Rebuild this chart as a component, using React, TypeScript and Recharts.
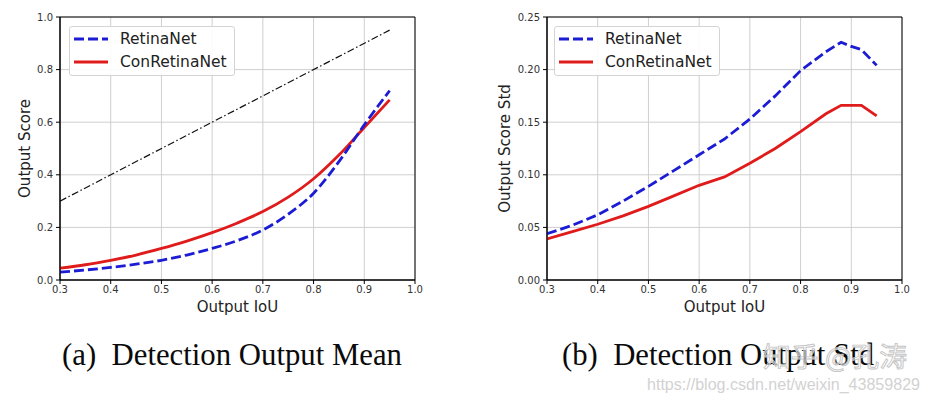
import React from 'react'
import { LineChart, Line, XAxis, YAxis, CartesianGrid, Legend, ReferenceArea, Label } from 'recharts'

const iouMean = [0.3, 0.35, 0.4, 0.45, 0.5, 0.55, 0.6, 0.65, 0.7, 0.75, 0.8, 0.85, 0.9, 0.95]
const retinaMean = [0.03, 0.038, 0.048, 0.06, 0.075, 0.095, 0.12, 0.15, 0.19, 0.25, 0.33, 0.45, 0.59, 0.72]
const conMean = [0.045, 0.058, 0.075, 0.095, 0.12, 0.148, 0.18, 0.217, 0.26, 0.315, 0.385, 0.475, 0.58, 0.685]

const iouStd = [0.3, 0.35, 0.4, 0.45, 0.5, 0.55, 0.6, 0.65, 0.7, 0.75, 0.8, 0.85, 0.88, 0.9, 0.92, 0.95]
const retinaStd = [0.044, 0.052, 0.062, 0.075, 0.089, 0.104, 0.119, 0.134, 0.153, 0.175, 0.199, 0.217, 0.226, 0.222, 0.219, 0.204]
const conStd = [0.039, 0.046, 0.053, 0.061, 0.07, 0.08, 0.09, 0.098, 0.111, 0.125, 0.141, 0.158, 0.166, 0.166, 0.166, 0.156]

// y = x reference (dash-dot)
const diagIou = [0.3, 0.95]

const xTicks = [0.3, 0.4, 0.5, 0.6, 0.7, 0.8, 0.9, 1.0]
const meanTicks = [0, 0.2, 0.4, 0.6, 0.8, 1.0]
const stdTicks = [0, 0.05, 0.1, 0.15, 0.2, 0.25]

const seriesNames = ['RetinaNet', 'ConRetinaNet']
const captions = ['(a)  Detection Output Mean', '(b)  Detection Output Std']

const meanData = iouMean.map((x, i) => ({ iou: x, retina: retinaMean[i], con: conMean[i] }))
const stdData = iouStd.map((x, i) => ({ iou: x, retina: retinaStd[i], con: conStd[i] }))
const diagData = diagIou.map(x => ({ iou: x, diag: x }))

const BLUE = '#1c1cd4'
const RED = '#e01b1b'
const FONT = 'DejaVu Sans, sans-serif'
const tick = { fontSize: 10, fill: '#333', fontFamily: FONT }

const YTitle = (text: string, off: number) => (props: any) => {
  const vb = props.viewBox
  const cx = vb.x + off
  const cy = vb.y + vb.height / 2
  return (
    <text x={cx} y={cy} transform={`rotate(-90 ${cx} ${cy})`} textAnchor="middle" dominantBaseline="central"
      fontSize={15} fontFamily={FONT} fill="#222">{text}</text>
  )
}

const XTitle = (props: any) => {
  const vb = props.viewBox
  return (
    <text x={vb.x + vb.width / 2} y={vb.y + 27} textAnchor="middle" dominantBaseline="central"
      fontSize={15} fontFamily={FONT} fill="#222">Output IoU</text>
  )
}

const LegendBox = () => (
  <div style={{ width: 166, height: 50, boxSizing: 'border-box', background: 'rgba(255,255,255,0.9)', border: '1px solid #d4d4d4', borderRadius: 3, position: 'relative', fontFamily: FONT, fontSize: 15.5, color: '#222' }}>
    {seriesNames.map((name, i) => (
      <div key={name} style={{ position: 'absolute', left: 3, top: 2 + i * 23, height: 20, display: 'flex', alignItems: 'center' }}>
        <svg width={36} height={8}>
          <line x1={1} y1={4} x2={35} y2={4} stroke={i === 0 ? BLUE : RED} strokeWidth={3} strokeDasharray={i === 0 ? '10 4' : undefined} />
        </svg>
        <span style={{ marginLeft: 11, lineHeight: '20px' }}>{name}</span>
      </div>
    ))}
  </div>
)

function Panel(props: { data: any[]; ticks: number[]; max: number; digits: number; title: string; yWidth: number; titleOff: number; right: number; legendLeft: number; curve: 'monotone' | 'linear'; diag?: boolean }) {
  const { data, ticks, max, digits, title, yWidth, titleOff, right, legendLeft, curve, diag } = props
  return (
    <LineChart width={10 + yWidth + 355 + right} height={320} data={data} margin={{ top: 17, right, left: 10, bottom: 0 }}>
      <CartesianGrid stroke="#cfcfcf" strokeWidth={1} verticalValues={xTicks} horizontalValues={ticks} />
      <XAxis dataKey="iou" type="number" domain={[0.3, 1.0]} ticks={xTicks} allowDataOverflow height={40}
        tick={tick} tickSize={4} tickMargin={2} stroke="#000" tickFormatter={(v: number) => v.toFixed(1)}>
        <Label content={XTitle} />
      </XAxis>
      <YAxis type="number" domain={[0, max]} ticks={ticks} width={yWidth} tick={tick} tickSize={4} tickMargin={3}
        stroke="#000" tickFormatter={(v: number) => v.toFixed(digits)}>
        <Label content={YTitle(title, titleOff)} />
      </YAxis>
      <ReferenceArea x1={0.3} x2={1.0} y1={0} y2={max} fill="none" stroke="#000" strokeWidth={1} />
      {diag && (
        <Line data={diagData} dataKey="diag" type="linear" stroke="#111" strokeWidth={1.2} strokeDasharray="7 2.5 1.5 2.5" dot={false} isAnimationActive={false} legendType="none" />
      )}
      <Line dataKey="con" name={seriesNames[1]} type={curve} stroke={RED} strokeWidth={2.8} dot={false} isAnimationActive={false} />
      <Line dataKey="retina" name={seriesNames[0]} type={curve} stroke={BLUE} strokeWidth={2.8} strokeDasharray="10 4" dot={false} isAnimationActive={false} />
      <Legend content={LegendBox} layout="vertical" align="center" verticalAlign="middle"
        wrapperStyle={{ left: legendLeft, top: 26, width: 166, height: 50 }} />
    </LineChart>
  )
}

export default function App() {
  return (
    <div style={{ position: 'relative', width: 931, height: 397, margin: '-8px 0 0 -8px', background: '#fff', overflow: 'hidden' }}>
      <div style={{ position: 'absolute', left: 0, top: 0 }}>
        <Panel data={meanData} ticks={meanTicks} max={1} digits={1} title="Output Score" yWidth={50} titleOff={15}
          right={25} legendLeft={69} curve="monotone" diag />
      </div>
      <div style={{ position: 'absolute', left: 470, top: 0 }}>
        <Panel data={stdData} ticks={stdTicks} max={0.25} digits={2} title="Output Score Std" yWidth={67} titleOff={25}
          right={18} legendLeft={84} curve="linear" />
      </div>
      <svg width={931} height={397} style={{ position: 'absolute', left: 0, top: 0, pointerEvents: 'none' }}>
        <text x={62} y={365} fontSize={32} fontFamily="Liberation Serif, serif" fill="#0a0a0a" textLength={340} lengthAdjust="spacingAndGlyphs" style={{ whiteSpace: 'pre' }}>{captions[0]}</text>
        <text x={562} y={365} fontSize={32} fontFamily="Liberation Serif, serif" fill="#0a0a0a" textLength={312} lengthAdjust="spacingAndGlyphs" style={{ whiteSpace: 'pre' }}>{captions[1]}</text>
        <text x={763} y={367} fontSize={27} fontFamily="Noto Sans CJK SC, sans-serif" fill="rgba(255,255,255,0.55)" stroke="#c4c4c4" strokeWidth={0.9} textLength={144} lengthAdjust="spacingAndGlyphs">知乎 @孔涛</text>
        <text x={647} y={390} fontSize={17} fontFamily="Liberation Sans, sans-serif" fill="#d2d2d2" textLength={273} lengthAdjust="spacingAndGlyphs">https://blog.csdn.net/weixin_43859829</text>
      </svg>
    </div>
  )
}
